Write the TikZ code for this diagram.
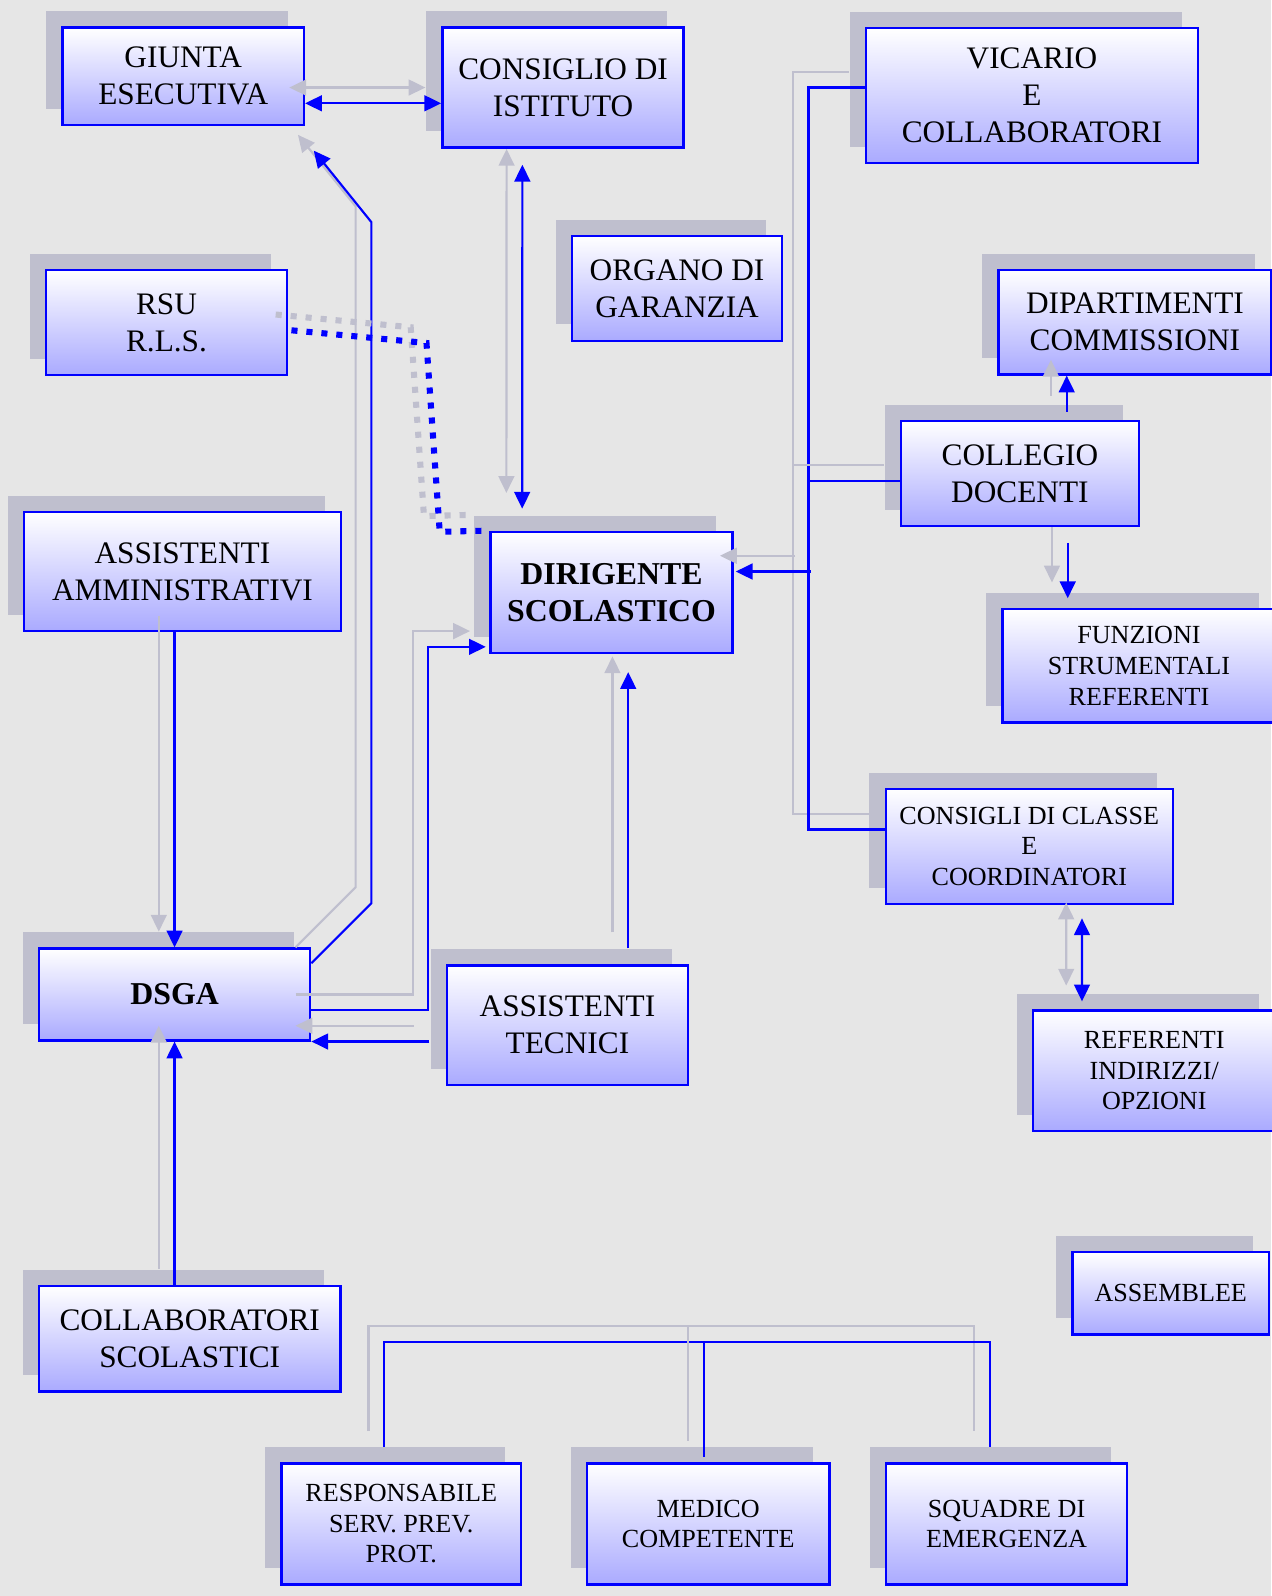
\documentclass[tikz,border=0pt]{standalone}
\usepackage{fontspec}
\setmainfont{Liberation Serif}
\usetikzlibrary{arrows.meta,calc,shadows}
\definecolor{fond}{RGB}{230,230,230}
\definecolor{ombre}{RGB}{191,191,206}
\definecolor{bleu}{RGB}{0,0,255}
\definecolor{lavande}{RGB}{170,170,255}
\begin{document}
\begin{tikzpicture}[x=0.02cm,y=-0.02cm]
	% Styles (MODIFIABLES)
	\tikzstyle{boite}=[draw=bleu,line width=1.4pt,top color=white,bottom color=lavande,align=center,inner sep=0pt,drop shadow={shadow xshift=-0.32cm,shadow yshift=0.32cm,fill=ombre,opacity=1}]
	\tikzstyle{grand}=[font=\fontsize{17.5}{20.7}\selectfont]
	\tikzstyle{gras}=[font=\fontsize{17.8}{20.7}\selectfont\bfseries]
	\tikzstyle{petit}=[font=\fontsize{14.6}{17.1}\selectfont]
	\tikzstyle{fleche}=[draw=bleu,line width=1.2pt,>={Triangle[length=0.33cm,width=0.31cm]}]
	\tikzstyle{reflet}=[draw=ombre,line width=1.2pt,>={Triangle[length=0.33cm,width=0.31cm]},transform canvas={xshift=-0.31cm,yshift=0.31cm}]
	\tikzstyle{pointille}=[line width=3.4pt,dash pattern=on 3.4pt off 5pt]
	% Dimensions (MODIFIABLES)
	\def\Px{0.02cm}
	% Liaison : reflet gris puis trait bleu
	\def\Liaison#1#2{\draw[reflet,#1] #2; \draw[fleche,#1] #2;}
	% Fond
	\useasboundingbox (0,0) rectangle (1249,1568);
	\fill[fond] (0,0) rectangle (1249,1568);
	% Noeuds (MODIFIABLES : Styles et Dimensions)
	\node[boite,grand,minimum width=237*\Px,minimum height=95.5*\Px] (Giunta) at (180,75) {GIUNTA\\ESECUTIVA};
	\node[boite,grand,minimum width=237*\Px,minimum height=118*\Px] (Consiglio) at (553.2,86.1) {CONSIGLIO DI\\ISTITUTO};
	\node[boite,grand,minimum width=326*\Px,minimum height=132.7*\Px] (Vicario) at (1013.8,94) {VICARIO\\E\\COLLABORATORI};
	\node[boite,grand,minimum width=206.5*\Px,minimum height=102.8*\Px] (Organo) at (665.2,283.4) {ORGANO DI\\GARANZIA};
	\node[boite,grand,minimum width=237*\Px,minimum height=103*\Px] (Rsu) at (163.6,317) {RSU\\R.L.S.};
	\node[boite,grand,minimum width=268*\Px,minimum height=102.5*\Px] (Dipartimenti) at (1115,316.5) {DIPARTIMENTI\\COMMISSIONI};
	\node[boite,grand,minimum width=234*\Px,minimum height=103*\Px] (Collegio) at (1002,465.2) {COLLEGIO\\DOCENTI};
	\node[boite,grand,minimum width=311.3*\Px,minimum height=117*\Px] (AssAmm) at (179.2,561.4) {ASSISTENTI\\AMMINISTRATIVI};
	\node[boite,gras,minimum width=237.6*\Px,minimum height=119*\Px] (Dirigente) at (600.8,582) {DIRIGENTE\\SCOLASTICO};
	\node[boite,petit,minimum width=268*\Px,minimum height=111.5*\Px] (Funzioni) at (1119,654.2) {FUNZIONI\\STRUMENTALI\\REFERENTI};
	\node[boite,petit,minimum width=282*\Px,minimum height=113*\Px] (ConsigliClasse) at (1011.2,831.5) {CONSIGLI DI CLASSE\\E\\COORDINATORI};
	\node[boite,gras,minimum width=266.3*\Px,minimum height=90*\Px] (Dsga) at (171.5,977) {DSGA};
	\node[boite,grand,minimum width=237*\Px,minimum height=117.7*\Px] (AssTec) at (557.5,1007.2) {ASSISTENTI\\TECNICI};
	\node[boite,petit,minimum width=238.4*\Px,minimum height=118.4*\Px] (Referenti) at (1134,1051.8) {REFERENTI\\INDIRIZZI/\\OPZIONI};
	\node[boite,petit,minimum width=193*\Px,minimum height=81*\Px] (Assemblee) at (1150.2,1270.5) {ASSEMBLEE};
	\node[boite,grand,minimum width=296.3*\Px,minimum height=103.6*\Px] (CollSc) at (186.4,1315.2) {COLLABORATORI\\SCOLASTICI};
	\node[boite,petit,minimum width=235.7*\Px,minimum height=119*\Px] (Responsabile) at (394.2,1497.2) {RESPONSABILE\\SERV. PREV.\\PROT.};
	\node[boite,petit,minimum width=238*\Px,minimum height=119*\Px] (Medico) at (695.8,1497.2) {MEDICO\\COMPETENTE};
	\node[boite,petit,minimum width=236.6*\Px,minimum height=119*\Px] (Squadre) at (988.9,1497.2) {SQUADRE DI\\EMERGENZA};
	% Arcs (MODIFIABLES : Styles)
	\Liaison{<->}{($(Giunta.east)+(0,26.5)$) -- ($(Consiglio.west)+(0,15.4)$)}
	\Liaison{->}{($(Dsga.north east)+(0,15.5)$) -- ++(59,-59) -- ++(0,-669) -- ($(Giunta.south east)+(8.5,24)$)}
	\Liaison{<->}{($(Consiglio.south)+(-40,15.5)$) -- ($(Dirigente.north)+(-87.8,-21.5)$)}
	\Liaison{->}{(Dsga.north |- AssAmm.south) -- (Dsga.north)}
	\Liaison{->}{($(Dsga.east)+(0,15.5)$) -- ++(115,0) |- ($(Dirigente.west)+(-3.5,53.5)$)}
	\Liaison{->}{($(AssTec.north)+(59.7,-15.5)$) -- ($(Dirigente.south)+(16.4,17.6)$)}
	\Liaison{->}{($(AssTec.west |- Dsga.south)+(-16,0)$) -- (Dsga.south east)}
	\Liaison{->}{(Dsga.south |- CollSc.north) -- (Dsga.south)}
	\Liaison{}{($(Vicario.west)+(0,-8)$) -| ($(ConsigliClasse.west)+(-74.6,-16.5)$) -- ($(ConsigliClasse.west)+(0,-16.5)$)}
	\Liaison{}{($(Collegio.west)+(0,7.2)$) -- ++(-89.4,0)}
	\Liaison{->}{($(Dirigente.east)+(75.9,-20.5)$) -- ($(Dirigente.east)+(2,-20.5)$)}
	\Liaison{->}{($(Collegio.north)+(46,-8)$) -- ($(Dipartimenti.south)+(-67,0)$)}
	\Liaison{->}{($(Collegio.south)+(47,15.5)$) -- ($(Funzioni.north)+(-70,-9.5)$)}
	\Liaison{<->}{($(ConsigliClasse.south)+(51.8,13)$) -- ($(Referenti.north)+(-71,-7.6)$)}
	\Liaison{}{($(Responsabile.north)+(-16.7,-15)$) |- ($(Squadre.north)+(-16.3,-118.3)$) -- ($(Squadre.north)+(-16.3,-15)$)}
	\Liaison{}{($(Medico.north)+(-4.4,-118.3)$) -- ($(Medico.north)+(-4.4,-5)$)}
	\Liaison{pointille}{($(Rsu.east)+(3,7.5)$) -- (419,337) -- (432,522.5) -- (Dirigente.north west)}
\end{tikzpicture}
\end{document}
